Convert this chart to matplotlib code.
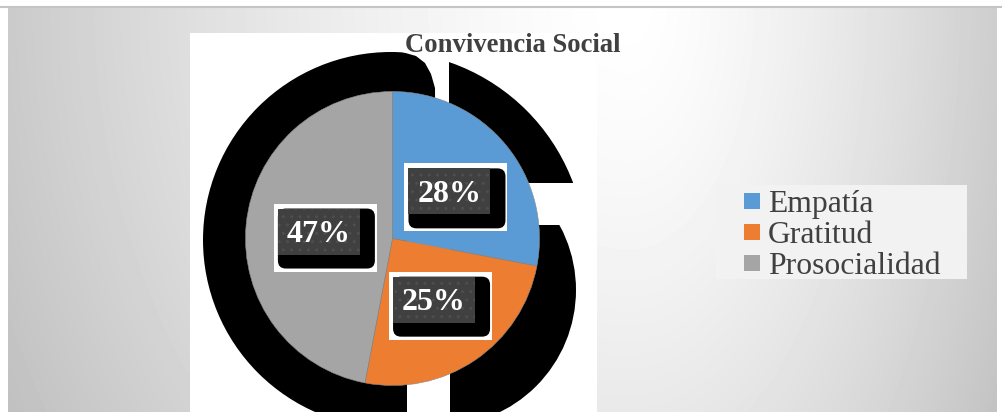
import numpy as np
import matplotlib
matplotlib.use('Agg')
import matplotlib.pyplot as plt
from matplotlib.patches import Circle, Rectangle, Polygon, FancyBboxPatch

# ---- data ----
categories = ['Empatía', 'Gratitud', 'Prosocialidad']
values = [28, 25, 47]
colors = ['#5B9BD5', '#ED7D31', '#A5A5A5']
title = 'Convivencia Social'

W, H = 1003, 412
fig = plt.figure(figsize=(W / 100, H / 100), dpi=100)
fig.patch.set_facecolor('white')
ax = fig.add_axes([0, 0, 1, 1])
ax.axis('off')


def Y(y):
    return H - y


SERIF = ['Liberation Serif', 'DejaVu Serif']

# ---- background gradient ----
xs = np.arange(8, 997) + 0.5
ys = np.arange(7, 412) + 0.5
XX, YY = np.meshgrid(xs, ys)
cx0 = 630
dx = np.where(XX < cx0, (XX - cx0) / 650.0, (XX - cx0) / 400.0)
dy = YY / 800.0
d = np.sqrt(dx ** 2 + dy ** 2)
b = 1 - 0.22 * np.clip(d, 0, 1.1) ** 1.4
ax.imshow(b, cmap='gray', vmin=0, vmax=1, extent=(8, 997, Y(412), Y(7)),
          origin='upper', interpolation='bilinear', zorder=0, aspect='auto')
ax.plot([0, W], [Y(7), Y(7)], color='#c4c4c4', lw=1.5, zorder=1)

# white plot area
ax.add_patch(Rectangle((190, Y(412)), 407, 379, fc='white', ec='none', zorder=1))

# ---- pie ----
pie_cx, pie_cy, pie_r = 392.5, 238.5, 147


def shadow(center_img, r, clip_img):
    c = Circle((center_img[0], Y(center_img[1])), r, fc='black', ec='none', zorder=2)
    ax.add_patch(c)
    poly = Polygon([(x, Y(y)) for x, y in clip_img], closed=True,
                   transform=ax.transData)
    c.set_clip_path(poly)


# decorative black shadows behind each slice
shadow((391, 240), 188, [(150, 20), (402, 20), (402, 52), (416, 56), (425, 63),
                         (431, 74), (435, 88), (436, 238), (407, 238), (407, 420), (150, 420)])
shadow((383, 254), 203, [(449, 20), (700, 20), (700, 183), (449, 183)])
shadow((440, 290), 136, [(450, 225), (700, 225), (700, 420), (450, 420)])

wedges, texts, autotexts = ax.pie(
    values, colors=colors, startangle=90, counterclock=False,
    center=(pie_cx, Y(pie_cy)), radius=pie_r, autopct='%1.0f%%',
    pctdistance=0.503, wedgeprops=dict(linewidth=0.4, edgecolor='#8a8a8a'),
    textprops=dict(color='white', fontsize=23, fontweight='bold', family=SERIF))
for w in wedges:
    w.set_zorder(3)

for at in autotexts:
    tx, ty = at.get_position()
    # white box
    ax.add_patch(Rectangle((tx - 45, ty - 40), 103, 68, fc='white', ec='none', zorder=5))
    # black rounded shadow box
    ax.add_patch(FancyBboxPatch((tx - 41, ty - 37), 97, 60,
                                boxstyle='round,pad=0,rounding_size=8',
                                fc='black', ec='none', zorder=6))
    # dark textured box
    ax.add_patch(Rectangle((tx - 41, ty - 23), 82, 46, fc='#404040',
                           ec='#4e4e4e', lw=0, hatch='..', zorder=7))
    at.set_position((tx, ty - 10.5))
    at.set_va('baseline')
    at.set_ha('center')
    at.set_zorder(8)

# ---- title ----
ax.text(512.5, Y(52), title, ha='center', va='baseline', fontsize=19.2,
        fontweight='bold', family=SERIF, color='#404040', zorder=9)

# ---- legend ----
ax.add_patch(Rectangle((716, Y(279)), 251, 94, fc='#f2f2f2', ec='none', zorder=4))
for i, (lab, col) in enumerate(zip(categories, colors)):
    base = 212 + 31 * i
    ax.add_patch(Rectangle((744, Y(base - 3)), 16, 16, fc=col, ec='none', zorder=5))
    ax.text(768, Y(base), lab, ha='left', va='baseline', fontsize=22.8,
            family=SERIF, color='#404040', zorder=5)

ax.set_xlim(0, W)
ax.set_ylim(0, H)
ax.set_aspect('auto')
fig.savefig('out.png', dpi=100, facecolor='white')
